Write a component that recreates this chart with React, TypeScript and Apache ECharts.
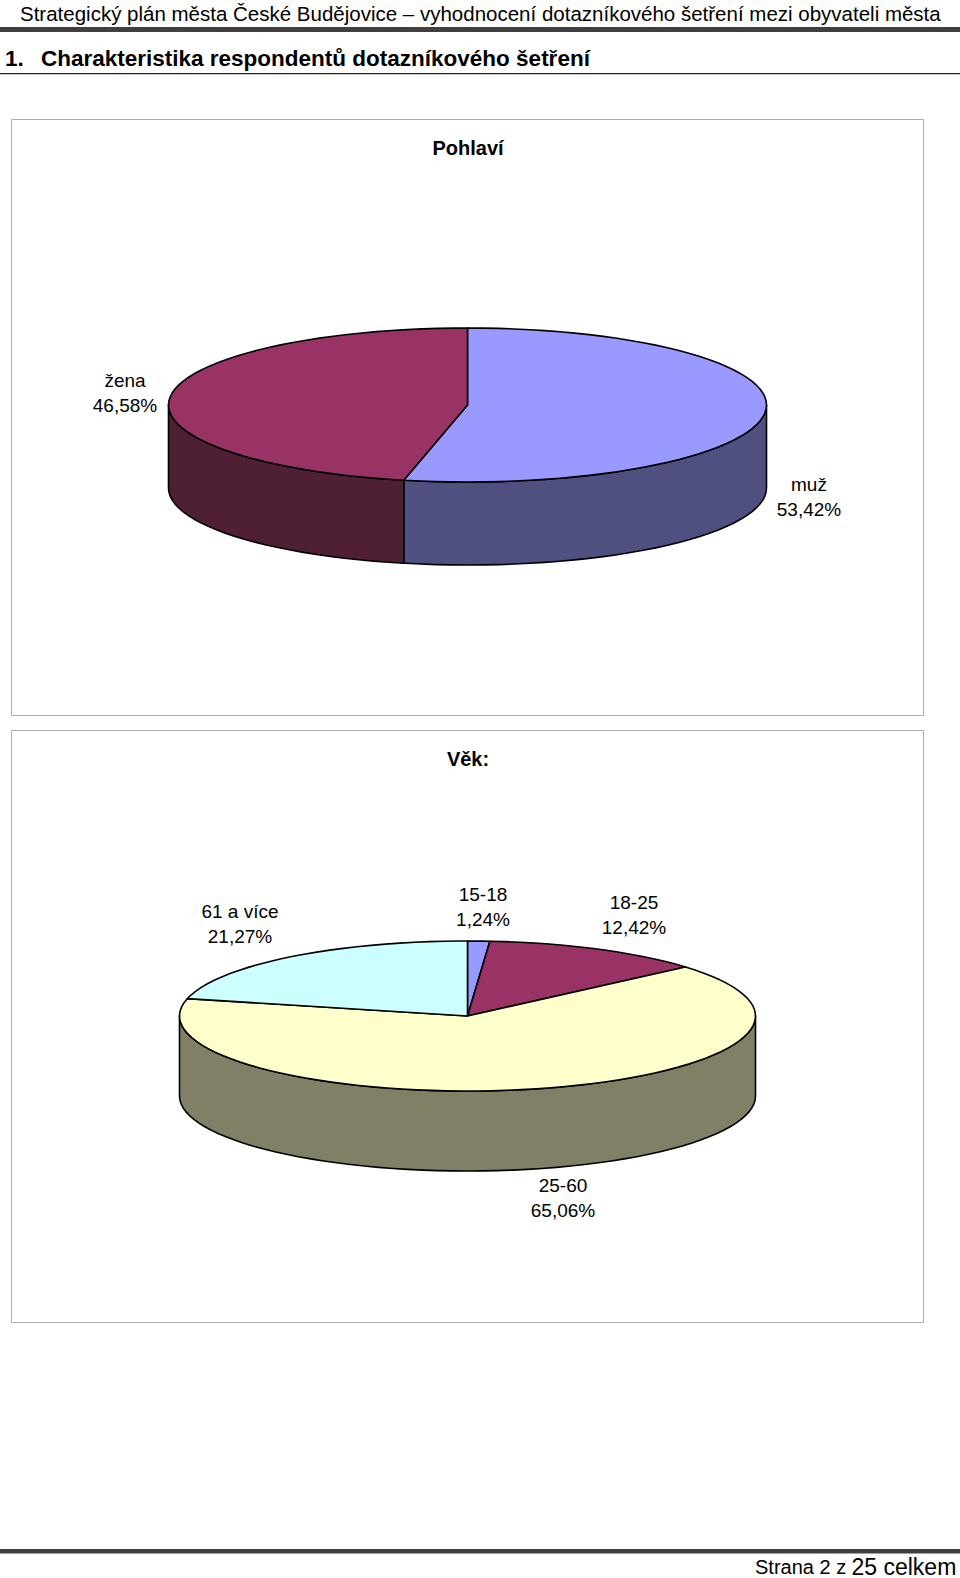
import React, { useEffect, useRef } from "react";
import * as echarts from "echarts";

const genderNames = ["muž", "žena"];
const genderValues = [53.42, 46.58];
const genderTop = ["#9999FF", "#993366"];
const genderSide = ["#4F4F80", "#4F2035"];

const ageNames = ["15-18", "18-25", "25-60", "61 a více"];
const ageValues = [1.24, 12.42, 65.06, 21.27];
const ageTop = ["#9999FF", "#993366", "#FFFFCC", "#CCFFFF"];
const ageSide = ["#4F4F80", "#4F2035", "#808066", "#668080"];

const headerText = "Strategický plán města České Budějovice – vyhodnocení dotazníkového šetření mezi obyvateli města";
const headingNumber = "1.";
const headingText = "Charakteristika respondentů dotazníkového šetření";
const genderTitle = "Pohlaví";
const ageTitle = "Věk:";

const FONT = '"Liberation Sans", Arial, sans-serif';

type Geo = { cx: number; cy: number; rx: number; ry: number; depth: number };
const genderGeo: Geo = { cx: 467.5, cy: 405, rx: 299, ry: 77, depth: 83 };
const ageGeo: Geo = { cx: 467.5, cy: 1016, rx: 288, ry: 75, depth: 80 };

const pt = (g: Geo, deg: number, dy = 0): number[] => {
  const a = (deg * Math.PI) / 180;
  return [g.cx + g.rx * Math.sin(a), g.cy - g.ry * Math.cos(a) + dy];
};

const arc = (g: Geo, from: number, to: number, dy = 0): number[][] => {
  const out: number[][] = [];
  for (let d = from; d < to; d += 3) out.push(pt(g, d, dy));
  out.push(pt(g, to, dy));
  return out;
};

function pieSeries(values: number[], names: string[], top: string[], side: string[], g: Geo) {
  const total = values.reduce((s, v) => s + v, 0);
  return {
    type: "custom",
    coordinateSystem: "none",
    silent: true,
    data: values.map((value, i) => ({ name: names[i], value })),
    renderItem: (params: any) => {
      const i = params.dataIndex;
      const before = values.slice(0, i).reduce((s, v) => s + v, 0);
      const a0 = (before / total) * 360;
      const a1 = ((before + values[i]) / total) * 360;
      const stroke = { stroke: "#000", lineWidth: 1.6, lineJoin: "round" };
      const children: any[] = [];
      const s0 = Math.max(a0, 90);
      const s1 = Math.min(a1, 270);
      if (s1 > s0) {
        children.push({
          type: "polygon",
          shape: { points: [...arc(g, s0, s1), ...arc(g, s0, s1, g.depth).reverse()] },
          style: { fill: side[i], ...stroke },
        });
      }
      children.push({
        type: "polygon",
        shape: { points: [[g.cx, g.cy], ...arc(g, a0, a1)] },
        style: { fill: top[i], ...stroke },
      });
      return { type: "group", children };
    },
  };
}

const pct = (v: number) => v.toFixed(2).replace(".", ",") + "%";

const label = (name: string, value: number, x: number, y: number) => ({
  type: "text",
  x,
  y,
  style: {
    text: `${name}\n${pct(value)}`,
    fill: "#000",
    font: `19px ${FONT}`,
    lineHeight: 25,
    textAlign: "center",
    textVerticalAlign: "middle",
  },
});

const box = (y: number, height: number) => ({
  type: "rect",
  shape: { x: 11.5, y, width: 912, height },
  style: { fill: "#fff", stroke: "#ABABAB", lineWidth: 1 },
  z: -1,
});

const bar = (y: number, height: number, fill: string) => ({
  type: "rect",
  shape: { x: 0, y, width: 960, height },
  style: { fill },
});

export default function App() {
  const ref = useRef<HTMLDivElement>(null);
  useEffect(() => {
    const chart = echarts.init(ref.current!, undefined, { renderer: "svg" });
    chart.setOption({
      animation: false,
      backgroundColor: "#fff",
      series: [
        pieSeries(genderValues, genderNames, genderTop, genderSide, genderGeo),
        pieSeries(ageValues, ageNames, ageTop, ageSide, ageGeo),
      ],
      graphic: [
        box(119.5, 596),
        box(730.5, 592),
        bar(27, 5, "#404040"),
        bar(73, 1.2, "#222"),
        bar(1549, 4.5, "#404040"),
        {
          type: "text", x: 20, y: 13.5,
          style: { text: headerText, fill: "#000", font: `20.5px ${FONT}`, textVerticalAlign: "middle" },
        },
        {
          type: "text", x: 5, y: 58,
          style: { text: headingNumber, fill: "#000", font: `bold 22.5px ${FONT}`, textVerticalAlign: "middle" },
        },
        {
          type: "text", x: 41, y: 58,
          style: { text: headingText, fill: "#000", font: `bold 22.5px ${FONT}`, textVerticalAlign: "middle" },
        },
        {
          type: "text", x: 468, y: 148,
          style: { text: genderTitle, fill: "#000", font: `bold 20px ${FONT}`, textAlign: "center", textVerticalAlign: "middle" },
        },
        {
          type: "text", x: 468, y: 759,
          style: { text: ageTitle, fill: "#000", font: `bold 20px ${FONT}`, textAlign: "center", textVerticalAlign: "middle" },
        },
        label(genderNames[0], genderValues[0], 809, 497),
        label(genderNames[1], genderValues[1], 125, 393),
        label(ageNames[0], ageValues[0], 483, 907),
        label(ageNames[1], ageValues[1], 634, 915),
        label(ageNames[2], ageValues[2], 563, 1198),
        label(ageNames[3], ageValues[3], 240, 924),
        {
          type: "text", x: 755, y: 1578,
          style: {
            text: "{a|Strana 2 z} {b|25 celkem}",
            textVerticalAlign: "bottom",
            rich: {
              a: { font: `20px ${FONT}`, fill: "#000", padding: [0, 2, 0, 0] },
              b: { font: `23px ${FONT}`, fill: "#000" },
            },
          },
        },
      ],
    });
    return () => chart.dispose();
  }, []);
  return <div ref={ref} style={{ position: "absolute", left: 0, top: 0, width: 960, height: 1578 }} />;
}
